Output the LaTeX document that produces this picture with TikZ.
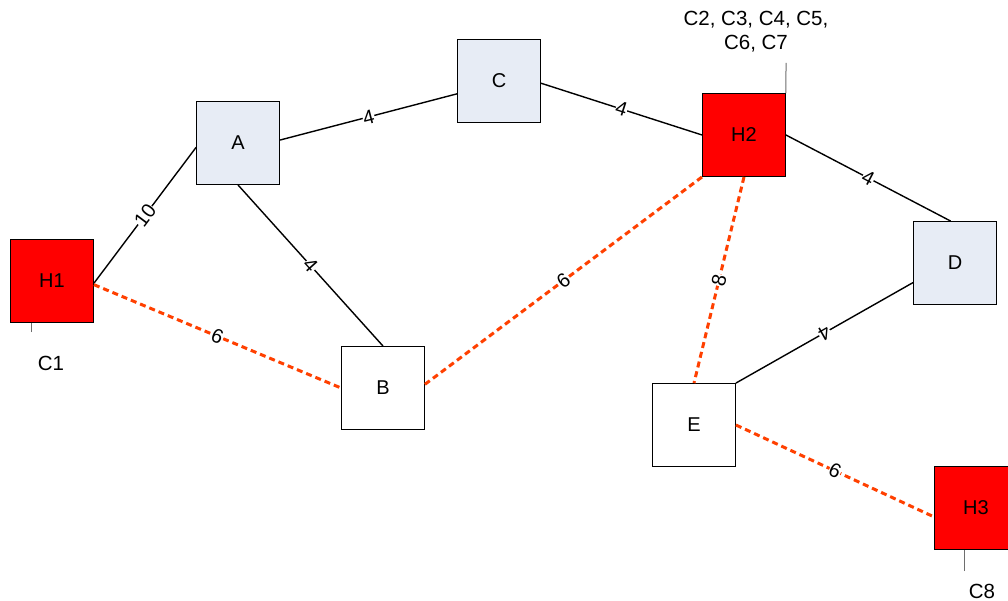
\documentclass[tikz,border=0pt]{standalone}
\usepackage{fontspec}
\setmainfont{Liberation Sans}
\definecolor{hostred}{RGB}{255,0,0}
\definecolor{netblue}{RGB}{231,236,245}
\definecolor{dashred}{RGB}{255,64,0}
\definecolor{tickgray}{RGB}{110,110,110}
\begin{document}
\begin{tikzpicture}[x=1pt,y=-1pt,
  sq/.style={draw=black, line width=0.9pt, minimum size=83pt, inner sep=0pt, font=\fontsize{20}{22}\selectfont},
  host/.style={sq, fill=hostred},
  router/.style={sq, fill=netblue},
  plain/.style={sq, fill=white},
  link/.style={draw=black, line width=1.4pt},
  hot/.style={draw=dashred, line width=3pt, dash pattern=on 6pt off 4pt},
  wt/.style={fill=white, inner sep=0.3pt, sloped, font=\fontsize{20}{22}\selectfont},
  tick/.style={draw=tickgray, line width=1pt},
  cl/.style={font=\fontsize{20.5}{24}\selectfont, align=center, inner sep=0pt}]
\useasboundingbox (0,0) rectangle (1008,601);
\path[fill=white] (0,0) rectangle (1008,601);
\node[host]   (H1) at (52,281)  {H1};
\node[router] (A)  at (238,143) {A};
\node[router] (C)  at (499,81)  {C};
\node[host]   (H2) at (744,135) {H2};
\node[router] (D)  at (955,263) {D};
\node[plain]  (B)  at (383,388) {B};
\node[plain]  (E)  at (694,425) {E};
\node[host]   (H3) at (976,508) {H3};
% solid links
\draw[link] (H1.357) -- node[wt]{10} (A.186);
\draw[link] (A.4) -- node[wt]{4} (C.197);
\draw[link] (C.357) -- node[wt]{4} (H2.west);
\draw[link] (H2.east) -- node[wt]{4} (D.96);
\draw[link] (A.south) -- node[wt]{4} (B.north);
\draw[link] (D.205) -- node[wt, allow upside down]{4} (E.north east);
% dashed links
\draw[hot] (H1.355) -- node[wt]{6} (B.west);
\draw[hot] (B.5) -- node[wt]{6} (H2.south west);
\draw[hot] (H2.south) -- node[wt]{8} (E.north);
\draw[hot] (E.east) -- node[wt]{6} (H3.192);
% client ticks and labels
\coordinate (t1) at (31,332);
\draw[tick] (t1) -- (t1 |- H1.south);
\node[cl] (C1) at (51,363) {C1};
\coordinate (t2) at (786,63);
\draw[tick] (t2) -- (H2.north east);
\node[cl] (C27) at (756,32) {C2, C3, C4, C5,\\C6, C7};
\coordinate (t3) at (964,571);
\draw[tick] (t3) -- (t3 |- H3.south);
\node[cl] (C8) at (982,591) {C8};
\end{tikzpicture}
\end{document}
